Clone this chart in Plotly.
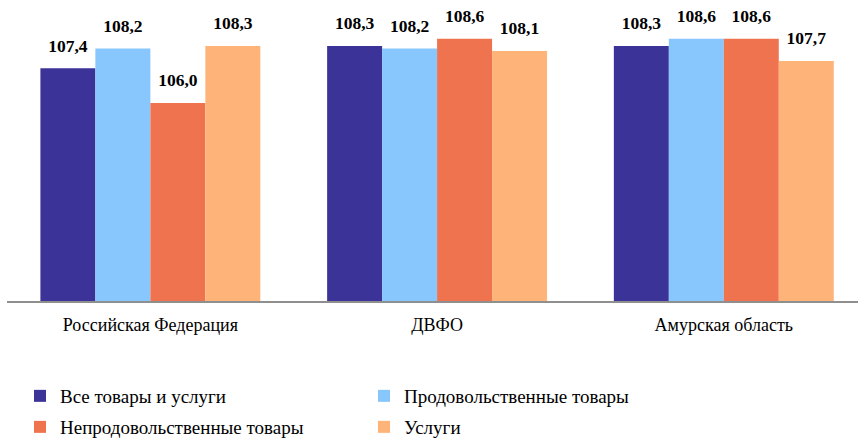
import plotly.graph_objects as go

categories = ["Российская Федерация", "ДВФО", "Амурская область"]
series_names = ["Все товары и услуги", "Продовольственные товары",
                "Непродовольственные товары", "Услуги"]
all_goods = [107.4, 108.3, 108.3]
food = [108.2, 108.2, 108.6]
nonfood = [106.0, 108.6, 108.6]
services = [108.3, 108.1, 107.7]
series_values = [all_goods, food, nonfood, services]
colors = ["#3b3397", "#88c6fe", "#f07350", "#feb479"]

FONT = "Liberation Serif, Times New Roman, DejaVu Serif, serif"
GAP = 0.233

fig = go.Figure()
for i, (name, vals, col) in enumerate(zip(series_names, series_values, colors)):
    fig.add_trace(go.Bar(
        x=categories, y=vals, name=name, marker=dict(color=col, line=dict(width=0)),
        offsetgroup=str(i), legend="legend" if i in (0, 1) else "legend2",
        hoverinfo="skip",
    ))
for i, vals in enumerate(series_values):
    fig.add_trace(go.Scatter(
        x=categories, y=vals, mode="markers+text", offsetgroup=str(i),
        marker=dict(size=18, opacity=0),
        texttemplate="%{y:.1f}", textposition="top center",
        textfont=dict(family=FONT, size=17.5, color="black", weight="bold"),
        showlegend=False, hoverinfo="skip", cliponaxis=False,
    ))

legend_common = dict(
    orientation="h", xref="container", yref="container", x=20 / 858,
    xanchor="left", yanchor="middle", entrywidth=299, entrywidthmode="pixels",
    font=dict(family=FONT, size=19, color="black"), traceorder="normal",
)

fig.update_layout(
    width=858, height=438,
    margin=dict(l=7, r=0, t=4, b=137),
    paper_bgcolor="white", plot_bgcolor="white",
    barmode="group", bargap=GAP, bargroupgap=0,
    scattermode="group", scattergap=GAP,
    separators=", ",
    font=dict(family=FONT, color="black"),
    xaxis=dict(
        type="category", range=[-0.5, 2.468], showline=True, linecolor="#8f8f8f",
        linewidth=2, ticks="", ticklabelstandoff=6,
        tickfont=dict(family=FONT, size=18, color="black"), showgrid=False, zeroline=False,
    ),
    yaxis=dict(visible=False, range=[98, 110]),
    legend=dict(legend_common, y=1 - 396 / 438),
    legend2=dict(legend_common, y=1 - 427 / 438),
)

fig.write_html(
    "out.html",
    config={"displayModeBar": False},
    post_script="document.body.style.margin='0';document.body.style.overflow='hidden';",
)
